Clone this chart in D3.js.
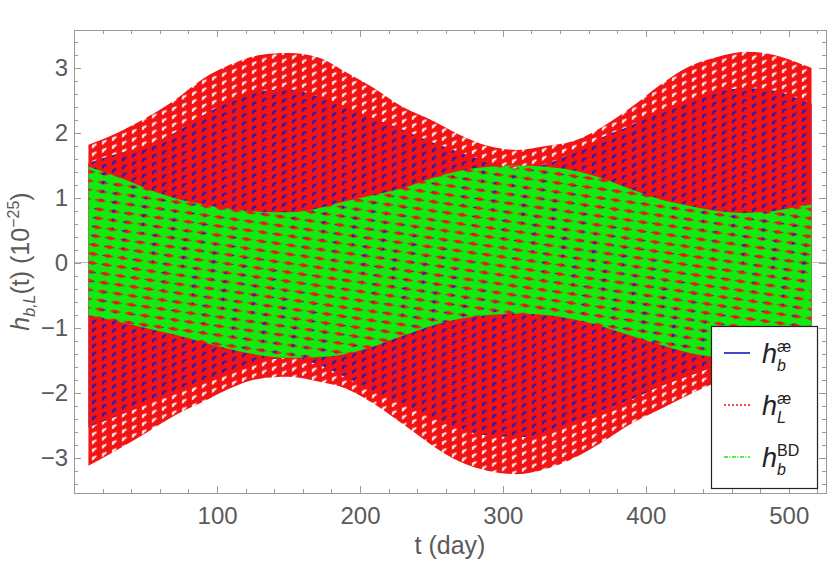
<!DOCTYPE html>
<html><head><meta charset="utf-8">
<script src="https://cdn.jsdelivr.net/npm/d3@7"></script>
<style>body{margin:0;background:#fff}svg{display:block}</style>
</head><body>
<svg id="c" width="830" height="587"></svg>
<script>
// ---- data (envelopes, units of 1e-25) ----
const days = [10,30,50,70,90,110,130,150,170,190,210,230,250,270,290,310,330,350,370,390,410,430,450,470,490,510,516];
const redUpper   = [1.82,2.0,2.23,2.5,2.83,3.06,3.2,3.23,3.17,2.94,2.69,2.4,2.2,1.97,1.8,1.74,1.8,1.88,2.1,2.4,2.74,3.02,3.17,3.25,3.2,3.05,3.0];
const redLower   = [-3.12,-2.88,-2.62,-2.35,-2.14,-1.92,-1.78,-1.75,-1.82,-1.93,-2.17,-2.48,-2.8,-3.06,-3.2,-3.25,-3.17,-3.0,-2.75,-2.47,-2.25,-2.03,-1.84,-1.75,-1.78,-1.86,-1.9];
const blueUpper  = [1.54,1.68,1.8,2.0,2.27,2.5,2.64,2.67,2.57,2.4,2.22,2.05,1.86,1.7,1.55,1.45,1.52,1.7,1.94,2.12,2.33,2.52,2.64,2.69,2.65,2.5,2.45];
const blueLower  = [-2.53,-2.36,-2.18,-2.0,-1.82,-1.66,-1.52,-1.46,-1.56,-1.76,-1.98,-2.17,-2.38,-2.55,-2.66,-2.68,-2.62,-2.45,-2.27,-2.1,-1.9,-1.74,-1.58,-1.47,-1.5,-1.65,-1.7];
const greenUpper = [1.48,1.33,1.15,1.0,0.9,0.83,0.79,0.78,0.84,0.95,1.05,1.15,1.3,1.42,1.48,1.5,1.48,1.42,1.3,1.13,0.98,0.88,0.8,0.77,0.8,0.88,0.9];
const greenLower = [-0.8,-0.9,-1.0,-1.1,-1.22,-1.33,-1.42,-1.46,-1.45,-1.4,-1.28,-1.12,-0.97,-0.86,-0.8,-0.78,-0.8,-0.87,-0.98,-1.12,-1.26,-1.38,-1.45,-1.47,-1.45,-1.38,-1.35];
const xMajorTicks = [100,200,300,400,500];
const yMajorTicks = [-3,-2,-1,0,1,2,3];
const seriesNames = ["æ","æ","BD"];

// ---- layout ----
const L=74, R=826, T=30, B=493;
const BLUE="#1818c0", RED="#f21414", GREEN="#12ea12", AX="#9a9a9a", TXT="#5a5a5a";
const FONT="'Liberation Sans', Arial, sans-serif";

const svg = d3.select("#c");
const x = d3.scaleLinear().domain([-0.1, 526.1]).range([L, R]);
const y = d3.scaleLinear().domain([-3.54, 3.585]).range([B, T]);

const defs = svg.append("defs");
defs.append("clipPath").attr("id","clip").append("rect")
  .attr("x",L).attr("y",T).attr("width",R-L).attr("height",B-T);

const pr = defs.append("pattern").attr("id","pr").attr("patternUnits","userSpaceOnUse")
  .attr("width",10).attr("height",8).attr("patternTransform","skewY(-20)");
pr.append("path").attr("fill",RED).attr("fill-rule","evenodd")
  .attr("d","M0,0H10V8H0Z M2,2.5h4.5v2h-2.5v1.5h-2Z");

const pg = defs.append("pattern").attr("id","pg").attr("patternUnits","userSpaceOnUse")
  .attr("width",15).attr("height",9).attr("patternTransform","rotate(8)");
pg.append("path").attr("fill",GREEN).attr("fill-rule","evenodd")
  .attr("d","M0,0H15V9H0Z M1.5,4.5L7.5,2.5L13.5,4.5L7.5,6.5Z");

// zero axis
svg.append("line").attr("x1",L).attr("x2",R).attr("y1",y(0)).attr("y2",y(0))
  .attr("stroke","#bdbdbd").attr("stroke-width",1).attr("shape-rendering","crispEdges");

const band = (lo, hi) => d3.area()
  .x((d,i)=>x(days[i])).y0((d,i)=>y(lo[i])).y1((d,i)=>y(hi[i]))
  .curve(d3.curveMonotoneX)(days);

const plot = svg.append("g").attr("clip-path","url(#clip)");
plot.append("path").attr("d", band(blueLower, blueUpper)).attr("fill", BLUE);
plot.append("path").attr("d", band(redLower, redUpper)).attr("fill", "url(#pr)");
plot.append("path").attr("d", band(greenLower, greenUpper)).attr("fill", "url(#pg)");

// ---- frame & ticks ----
const xMinor = d3.range(20, 521, 20).filter(v => v % 100 !== 0);
const yMinor = d3.range(-34, 35, 2).map(v => v/10).filter(v => Math.abs(v - Math.round(v)) > 1e-6);

function styleAxis(g){
  g.select(".domain").remove();
  g.selectAll(".tick line").attr("stroke",AX).attr("shape-rendering","crispEdges");
  g.selectAll(".tick text").attr("fill",TXT).attr("font-family",FONT).attr("font-size",24);
}
svg.append("g").attr("transform",`translate(0,${B})`)
  .call(d3.axisBottom(x).tickValues(xMajorTicks).tickSize(-7).tickPadding(14).tickFormat(d3.format("d"))).call(styleAxis);
svg.append("g").attr("transform",`translate(0,${B})`)
  .call(d3.axisBottom(x).tickValues(xMinor).tickSize(-4).tickFormat("")).call(styleAxis);
svg.append("g").attr("transform",`translate(0,${T})`)
  .call(d3.axisTop(x).tickValues(xMajorTicks).tickSize(-7).tickFormat("")).call(styleAxis);
svg.append("g").attr("transform",`translate(0,${T})`)
  .call(d3.axisTop(x).tickValues(xMinor).tickSize(-4).tickFormat("")).call(styleAxis);
svg.append("g").attr("transform",`translate(${L},0)`)
  .call(d3.axisLeft(y).tickValues(yMajorTicks).tickSize(-7).tickPadding(6).tickFormat(d3.format("d"))).call(styleAxis);
svg.append("g").attr("transform",`translate(${L},0)`)
  .call(d3.axisLeft(y).tickValues(yMinor).tickSize(-4).tickFormat("")).call(styleAxis);
svg.append("g").attr("transform",`translate(${R},0)`)
  .call(d3.axisRight(y).tickValues(yMajorTicks).tickSize(-7).tickFormat("")).call(styleAxis);
svg.append("g").attr("transform",`translate(${R},0)`)
  .call(d3.axisRight(y).tickValues(yMinor).tickSize(-4).tickFormat("")).call(styleAxis);

svg.append("rect").attr("x",L).attr("y",T).attr("width",R-L).attr("height",B-T)
  .attr("fill","none").attr("stroke",AX).attr("stroke-width",1).attr("shape-rendering","crispEdges");

// ---- axis titles ----
svg.append("text").attr("x",(L+R)/2).attr("y",554).attr("text-anchor","middle")
  .attr("font-family",FONT).attr("font-size",25).attr("fill",TXT).text("t (day)");

const yt = svg.append("text").attr("transform",`translate(29,${(T+B)/2}) rotate(-90)`)
  .attr("text-anchor","middle").attr("font-family",FONT).attr("font-size",25).attr("fill",TXT);
yt.append("tspan").attr("font-style","italic").text("h");
yt.append("tspan").attr("font-style","italic").attr("font-size",16).attr("dy",6).text("b,L");
yt.append("tspan").attr("dy",-6).text("(t) (10");
yt.append("tspan").attr("font-size",16).attr("dy",-10).text("\u221225");
yt.append("tspan").attr("dy",10).text(")");

// ---- legend ----
const lg = svg.append("g");
lg.append("rect").attr("x",711.5).attr("y",326.5).attr("width",106).attr("height",162)
  .attr("fill","#fff").attr("stroke","#222").attr("stroke-width",1.2);
const legendItems = [
  {color:BLUE, dash:null, sup:seriesNames[0], sub:"b"},
  {color:RED, dash:"2,2", sup:seriesNames[1], sub:"L"},
  {color:GREEN, dash:"4,1.5,1,1.5", sup:seriesNames[2], sub:"b"}
];
legendItems.forEach((it,i)=>{
  const cy = 353 + i*52;
  lg.append("line").attr("x1",724).attr("x2",750).attr("y1",cy).attr("y2",cy)
    .attr("stroke",it.color).attr("stroke-width",1.6).attr("stroke-dasharray",it.dash);
  lg.append("text").attr("x",762).attr("y",cy+10).attr("font-family",FONT).attr("font-size",27)
    .attr("font-style","italic").attr("fill","#222").text("h");
  lg.append("text").attr("x",777).attr("y",cy-1).attr("font-family",FONT).attr("font-size",16)
    .attr("fill","#222").text(it.sup);
  lg.append("text").attr("x",777).attr("y",cy+18).attr("font-family",FONT).attr("font-size",16)
    .attr("font-style","italic").attr("fill","#222").text(it.sub);
});
</script>
</body></html>
